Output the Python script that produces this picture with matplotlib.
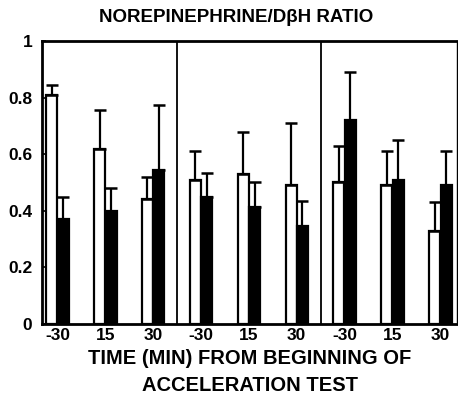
import matplotlib
matplotlib.use("Agg")
import matplotlib.pyplot as plt
import numpy as np

plt.rcParams['font.family'] = ['Liberation Sans', 'DejaVu Sans']
plt.rcParams['font.weight'] = 'bold'

# sampling times, repeated for each of the three panels
time_labels = ['-30', '15', '30'] * 3

# open bars / filled bars, means and upper SEM
open_mean = [0.81, 0.62, 0.44, 0.51, 0.53, 0.49, 0.50, 0.49, 0.33]
open_sem = [0.035, 0.135, 0.08, 0.10, 0.15, 0.22, 0.13, 0.12, 0.10]
filled_mean = [0.37, 0.40, 0.545, 0.45, 0.415, 0.345, 0.72, 0.51, 0.49]
filled_sem = [0.08, 0.08, 0.23, 0.085, 0.085, 0.09, 0.17, 0.14, 0.12]

fig = plt.figure(figsize=(4.58, 3.98), dpi=100)
ax = fig.add_axes([0.092, 0.186, 0.906, 0.711])

x = np.arange(len(time_labels))
w = 0.23
off = 0.12

ax.bar(x - off, open_mean, w, color='white', edgecolor='black', linewidth=1.6, zorder=2)
ax.bar(x + off, filled_mean, w, color='black', edgecolor='black', linewidth=1.6, zorder=2)

for xs, m, s in [(x - off, open_mean, open_sem), (x + off, filled_mean, filled_sem)]:
    ax.errorbar(xs, m, yerr=[np.zeros(len(s)), s], fmt='none', ecolor='black',
                elinewidth=1.6, capsize=4, capthick=1.8, zorder=3)

# panel separators
for xd in (2.5, 5.5):
    ax.axvline(xd, color='black', lw=1.3, zorder=1)

ax.set_xlim(-0.32, 8.35)
ax.set_ylim(0, 1)
ax.set_xticks(x)
ax.set_xticklabels(time_labels, fontsize=12.5, fontweight='bold')
ax.tick_params(axis='x', length=0, pad=3)
ax.set_yticks([0, 0.2, 0.4, 0.6, 0.8, 1])
ax.set_yticklabels(['0', '0.2', '0.4', '0.6', '0.8', '1'], fontsize=12.5, fontweight='bold')
ax.tick_params(axis='y', direction='in', length=3, width=1.2, pad=7)

for side in ('left', 'top', 'bottom'):
    ax.spines[side].set_linewidth(2)
ax.spines['right'].set_linewidth(1)

ax.set_title('NOREPINEPHRINE/D\u03b2H RATIO', fontsize=13.5, fontweight='bold', pad=14, x=0.467)
ax.set_xlabel('TIME (MIN) FROM BEGINNING OF\nACCELERATION TEST', fontsize=14.5,
              fontweight='bold', linespacing=1.55, labelpad=4)

fig.savefig('out.png', dpi=100)
